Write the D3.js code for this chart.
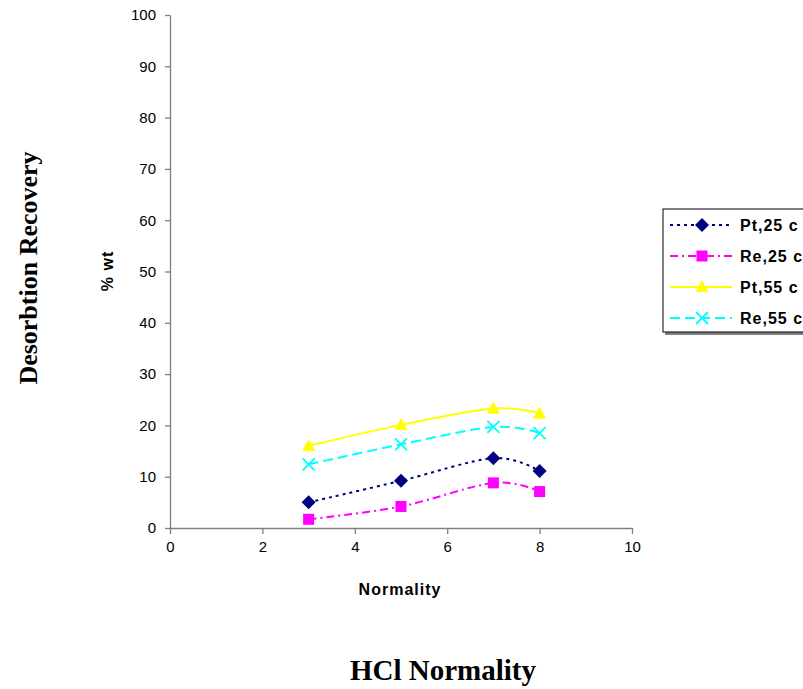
<!DOCTYPE html>
<html>
<head>
<meta charset="utf-8">
<script src="https://cdn.jsdelivr.net/npm/d3@7"></script>
<style>
  body { margin: 0; background: #fff; }
  svg { display: block; }
</style>
</head>
<body>
<svg id="chart" width="803" height="689"></svg>
<script>
// data
const normality = [3, 5, 7, 8]
const pt25 = [5.0, 9.2, 13.6, 11.1]
const re25 = [1.7, 4.2, 8.8, 7.1]
const pt55 = [16.0, 20.1, 23.3, 22.3]
const re55 = [12.4, 16.3, 19.7, 18.5]
const xTicks = [0, 2, 4, 6, 8, 10]
const yTicks = [0, 10, 20, 30, 40, 50, 60, 70, 80, 90, 100]

const series = [
  { name: 'Pt,25 c', values: pt25, color: '#000080', dash: '3,4', marker: 'diamond' },
  { name: 'Re,25 c', values: re25, color: '#ff00ff', dash: '8,4,2,4', marker: 'square' },
  { name: 'Pt,55 c', values: pt55, color: '#ffff00', dash: null, marker: 'triangle' },
  { name: 'Re,55 c', values: re55, color: '#00ffff', dash: '10,5', marker: 'cross' }
]

const svg = d3.select('#chart')
const axisColor = '#808080'
const sans = 'Liberation Sans, Arial, sans-serif'
const serif = 'Liberation Serif, Times New Roman, serif'

const x = d3.scaleLinear().domain([0, 10]).range([170, 632])
const y = d3.scaleLinear().domain([0, 100]).range([528, 15])

// axes
const xAxis = svg.append('g')
  .attr('transform', `translate(0,${y(0)})`)
  .call(d3.axisBottom(x).tickValues(xTicks).tickSize(6).tickSizeOuter(0).tickPadding(7))
const yAxis = svg.append('g')
  .attr('transform', `translate(${x(0)},0)`)
  .call(d3.axisLeft(y).tickValues(yTicks).tickSize(5).tickSizeOuter(0).tickPadding(9))

;[xAxis, yAxis].forEach(a => {
  a.select('.domain').attr('stroke', axisColor).attr('stroke-width', 1.3)
  a.selectAll('.tick line').attr('stroke', axisColor).attr('stroke-width', 1.3)
  a.selectAll('.tick text')
    .attr('fill', '#000')
    .style('font-family', sans)
    .style('font-size', '15px')
})

const markerPath = (type) => {
  if (type === 'diamond') return 'M0,-7L7,0L0,7L-7,0Z'
  if (type === 'square') return 'M-5.5,-5.5H5.5V5.5H-5.5Z'
  if (type === 'triangle') return 'M0,-7L6.5,5L-6.5,5Z'
  return 'M-6,-6L6,6M-6,6L6,-6'
}

const line = d3.line()
  .x((d, i) => x(normality[i]))
  .y(d => y(d))
  .curve(d3.curveCatmullRom.alpha(0))

const drawMarker = (g, s, px, py) => {
  const m = g.append('path')
    .attr('d', markerPath(s.marker))
    .attr('transform', `translate(${px},${py})`)
  if (s.marker === 'cross') {
    m.attr('fill', 'none').attr('stroke', s.color).attr('stroke-width', 1.8)
  } else {
    m.attr('fill', s.color)
  }
}

series.forEach(s => {
  const g = svg.append('g')
  g.append('path')
    .datum(s.values)
    .attr('d', line)
    .attr('fill', 'none')
    .attr('stroke', s.color)
    .attr('stroke-width', 2)
    .attr('stroke-dasharray', s.dash)
  s.values.forEach((v, i) => drawMarker(g, s, x(normality[i]), y(v)))
})

// legend
const legend = svg.append('g').attr('transform', 'translate(663,209)')
legend.append('rect')
  .attr('x', 2).attr('y', 2).attr('width', 155).attr('height', 124)
  .attr('fill', '#808080')
legend.append('rect')
  .attr('x', 0).attr('y', 0).attr('width', 155).attr('height', 123)
  .attr('fill', '#fff').attr('stroke', '#000').attr('stroke-width', 1)
series.forEach((s, i) => {
  const ry = 16 + i * 31
  legend.append('line')
    .attr('x1', 7).attr('x2', 69).attr('y1', ry).attr('y2', ry)
    .attr('stroke', s.color).attr('stroke-width', 2)
    .attr('stroke-dasharray', s.dash)
  drawMarker(legend, s, 39, ry)
  legend.append('text')
    .attr('x', 77).attr('y', ry + 6)
    .style('font-family', sans)
    .style('font-size', '16px')
    .style('font-weight', 'bold')
    .style('letter-spacing', '1px')
    .text(s.name)
})

// titles
svg.append('text')
  .attr('transform', 'translate(400,595)')
  .attr('text-anchor', 'middle')
  .style('font-family', sans)
  .style('font-size', '16px')
  .style('font-weight', 'bold')
  .style('letter-spacing', '1px')
  .text('Normality')

svg.append('text')
  .attr('transform', 'translate(113,271) rotate(-90)')
  .attr('text-anchor', 'middle')
  .style('font-family', sans)
  .style('font-size', '16px')
  .style('font-weight', 'bold')
  .style('letter-spacing', '1px')
  .text('% wt')

svg.append('text')
  .attr('transform', 'translate(37,268) rotate(-90)')
  .attr('text-anchor', 'middle')
  .style('font-family', serif)
  .style('font-size', '26px')
  .style('font-weight', 'bold')
  .text('Desorbtion Recovery')

svg.append('text')
  .attr('transform', 'translate(443,680)')
  .attr('text-anchor', 'middle')
  .style('font-family', serif)
  .style('font-size', '29px')
  .style('font-weight', 'bold')
  .text('HCl Normality')
</script>
</body>
</html>
